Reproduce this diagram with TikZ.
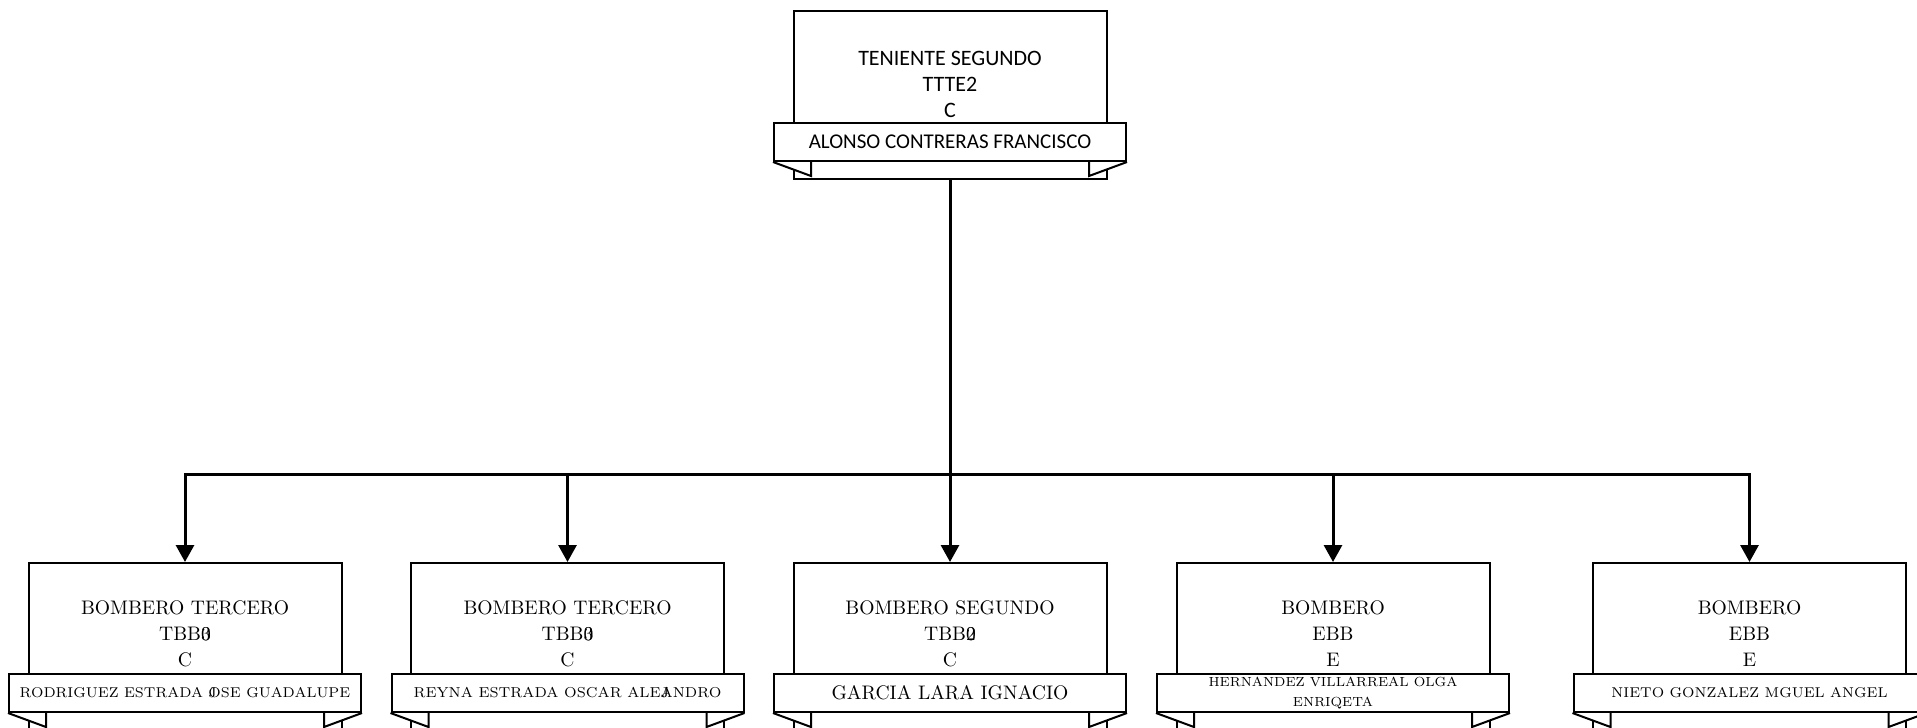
\documentclass[tikz,border=0pt]{standalone}
\usepackage{fontspec}
\newfontfamily\carlito{Carlito}
\usetikzlibrary{arrows.meta,positioning}

\tikzset{
  cargo/.style={draw,line width=1pt,fill=white,minimum width=156.5pt,minimum height=84pt,inner sep=0pt,anchor=north},
  banda/.style={draw,line width=1pt,fill=white,minimum width=176pt,minimum height=19pt,inner sep=0pt,align=center,anchor=north},
  titulo/.style={align=center,inner sep=0pt,font=\fontsize{9.8}{13}\selectfont},
  flecha/.style={line width=1.5pt,-{Triangle[width=9pt,length=8.5pt]}},
  solapa/.style={line width=1pt,fill=white},
}

\begin{document}
\begin{tikzpicture}[x=0.5pt,y=-0.5pt]
  \useasboundingbox (0,0) rectangle (1917,728);

  % jefe
  \node[cargo] (jefe) at (950,10) {};
  \node[titulo,font=\carlito\fontsize{11}{13}\selectfont] (jefe-t) at (950,84) {TENIENTE SEGUNDO\\TTTE2\\C};
  \node[banda,font=\carlito\fontsize{10.5}{12}\selectfont] (jefe-n) at (950,122) {ALONSO CONTRERAS FRANCISCO};

  % bomberos
  \node[cargo] (b1) at (185,562) {};
  \node[titulo] (b1-t) at (185,634) {BOMBERO TERCERO\\TBB\rlap{0}3\\C};
  \node[banda,font=\fontsize{7.1}{10}\selectfont] (b1-n) at (185,673) {RODRIGUEZ ESTRADA \rlap{J}OSE GUADALUPE};

  \node[cargo] (b2) at (567.5,562) {};
  \node[titulo] (b2-t) at (567.5,634) {BOMBERO TERCERO\\TBB\rlap{0}3\\C};
  \node[banda,font=\fontsize{7.2}{10}\selectfont] (b2-n) at (567.5,673) {REYNA ESTRADA OSCAR ALE\rlap{J}ANDRO};

  \node[cargo] (b3) at (950,562) {};
  \node[titulo] (b3-t) at (950,634) {BOMBERO SEGUNDO\\TBB\rlap{0}2\\C};
  \node[banda,font=\fontsize{9.8}{11}\selectfont] (b3-n) at (950,673) {GARCIA LARA IGNACIO};

  \node[cargo] (b4) at (1333,562) {};
  \node[titulo] (b4-t) at (1333,634) {BOMBERO\\EBB\\E};
  \node[banda,font=\fontsize{6.6}{10}\selectfont] (b4-n) at (1333,673) {HERNANDEZ VILLARREAL OLGA\\ENRIQETA};

  \node[cargo] (b5) at (1749.5,562) {};
  \node[titulo] (b5-t) at (1749.5,634) {BOMBERO\\EBB\\E};
  \node[banda,font=\fontsize{7.1}{10}\selectfont] (b5-n) at (1749.5,673) {NIETO GONZALEZ MGUEL ANGEL};

  % solapas de las bandas
  \foreach \n in {jefe-n,b1-n,b2-n,b3-n,b4-n,b5-n} {
    \draw[solapa] (\n.south west) -- ++(19pt,-7pt) -- ++(0,7pt);
    \draw[solapa] (\n.south east) -- ++(-19pt,-7pt) -- ++(0,7pt);
  }

  \coordinate (bus) at (950,474);
  \foreach \b in {b1,b2,b3,b4,b5}
    \draw[flecha] (jefe.south) -- (bus) -| (\b.north);
\end{tikzpicture}
\end{document}
